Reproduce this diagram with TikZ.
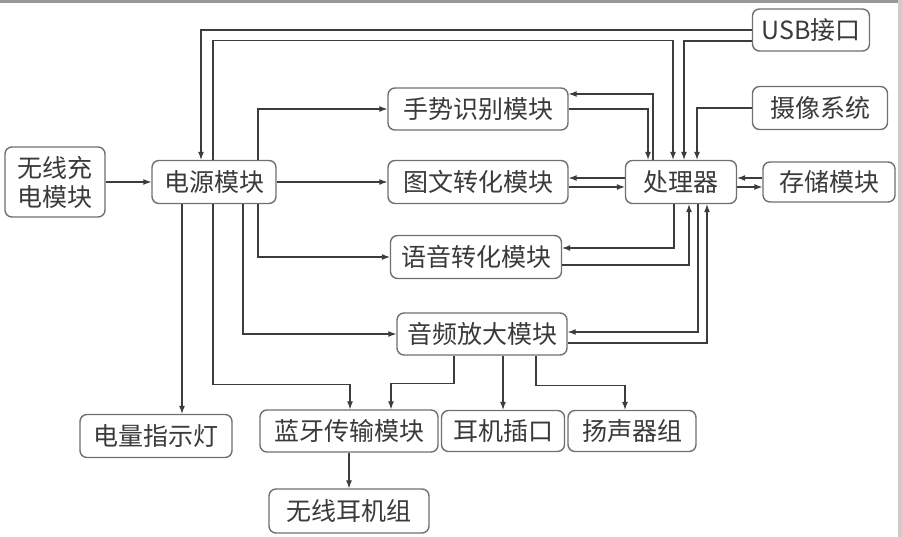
\documentclass[tikz,border=0pt]{standalone}
\usepackage{fontspec}
\setmainfont{Noto Sans CJK SC}
\usepackage{tikz}
\usetikzlibrary{positioning,calc,arrows.meta}
\usepackage{xcolor}
\definecolor{linegray}{HTML}{3C3C3C}
\definecolor{boxgray}{HTML}{707070}
\definecolor{textgray}{HTML}{3A3A3A}

\begin{document}
\begin{tikzpicture}[x=1pt,y=-1pt,
            box/.style={rectangle,rounded corners=7pt,draw=boxgray,line width=1.4pt,text=textgray,font=\fontsize{25}{29}\selectfont,inner sep=0pt,align=center},
            link/.style={draw=linegray,line width=1.1pt,-{Latex[length=8pt,width=6pt]}}]

            \fill[white] (0,0) rectangle (902,537);
            \fill[gray!80] (0,0) rectangle (902,3);
            \fill[gray!40] (898,0) rectangle (902,537);
            \useasboundingbox (0,0) rectangle (902,537);

            \node (wlc)[box,minimum width=100pt,minimum height=70pt] at (55,182) {无线充\\电模块};
            \node (pwr)[box,minimum width=124pt,minimum height=43pt] at (214,182) {电源模块};
            \node (bat)[box,minimum width=152pt,minimum height=43pt] at (156,436) {电量指示灯};
            \node (ges)[box,minimum width=180pt,minimum height=42pt] at (478,109) {手势识别模块};
            \node (img)[box,minimum width=180pt,minimum height=43pt] at (478,182) {图文转化模块};
            \node (cpu)[box,minimum width=111pt,minimum height=43pt] at (681,182) {处理器};
            \node (usb)[box,minimum width=117pt,minimum height=42pt] at (811,30) {USB接口};
            \node (cam)[box,minimum width=135pt,minimum height=43pt] at (820,108) {摄像系统};
            \node (mem)[box,minimum width=132pt,minimum height=40pt] at (829,182) {存储模块};
            \node (voc)[box,minimum width=171pt,minimum height=43pt] at (476,257) {语音转化模块};
            \node (amp)[box,minimum width=170pt,minimum height=42pt] at (482,334) {音频放大模块};
            \node (bt)[box,minimum width=178pt,minimum height=42pt] at (349,431) {蓝牙传输模块};
            \node (jack)[box,minimum width=123pt,minimum height=41pt] at (503,431) {耳机插口};
            \node (spk)[box,minimum width=128pt,minimum height=41pt] at (632,431) {扬声器组};
            \node (ear)[box,minimum width=160pt,minimum height=44pt] at (349,511) {无线耳机组};

            \draw[link] (wlc) -- (pwr);
            \draw[link] (usb.west) -| ([xshift=-13pt]pwr.north);
            \draw[link] ([yshift=-11pt]usb.west) -| ([xshift=3pt]cpu.north);
            \draw[link] ([xshift=-1pt]pwr.north) -- ++(0,-119) -| ([xshift=-8pt]cpu.north);
            \draw[link] ([xshift=44pt]pwr.north) |- (ges.west);
            \draw[link] ([xshift=-28pt]cpu.north) |- ([yshift=15pt]ges.east);
            \draw[link] (ges.east) -| ([xshift=-33pt]cpu.north);
            \draw[link] (cam.west) -| ([xshift=16pt]cpu.north);
            \draw[link] (pwr) -- (img);
            \draw[link] ([yshift=4pt]cpu.west) -- ([yshift=4pt]img.east);
            \draw[link] ([yshift=-5pt]img.east) -- ([yshift=-5pt]cpu.west);
            \draw[link] ([yshift=4pt]mem.west) -- ([yshift=4pt]cpu.east);
            \draw[link] ([yshift=-5pt]cpu.east) -- ([yshift=-5pt]mem.west);
            \draw[link] ([xshift=-7pt]cpu.south) |- ([yshift=9pt]voc.east);
            \draw[link] ([yshift=-8pt]voc.east) -| ([xshift=8pt]cpu.south);
            \draw[link] ([xshift=17pt]cpu.south) |- ([yshift=2pt]amp.east);
            \draw[link] ([yshift=-9pt]amp.east) -| ([xshift=26pt]cpu.south);
            \draw[link] ([xshift=-32pt]pwr.south) -- ([xshift=-32pt]pwr.south |- bat.north);
            \draw[link] ([xshift=44pt]pwr.south) |- (voc.west);
            \draw[link] ([xshift=29pt]pwr.south) |- (amp.west);
            \draw[link] ([xshift=-1pt]pwr.south) -- ++(0,180) -| ([xshift=1pt]bt.north);
            \draw[link] ([xshift=-28pt]amp.south) -- ++(0,28) -| ([xshift=42pt]bt.north);
            \draw[link] (amp.south -| jack.north) -- (jack.north);
            \draw[link] ([xshift=54pt]amp.south) -- ++(0,30) -| ([xshift=-7pt]spk.north);
            \draw[link] (bt.south) -- (ear.north);
         \end{tikzpicture}
\end{document}
